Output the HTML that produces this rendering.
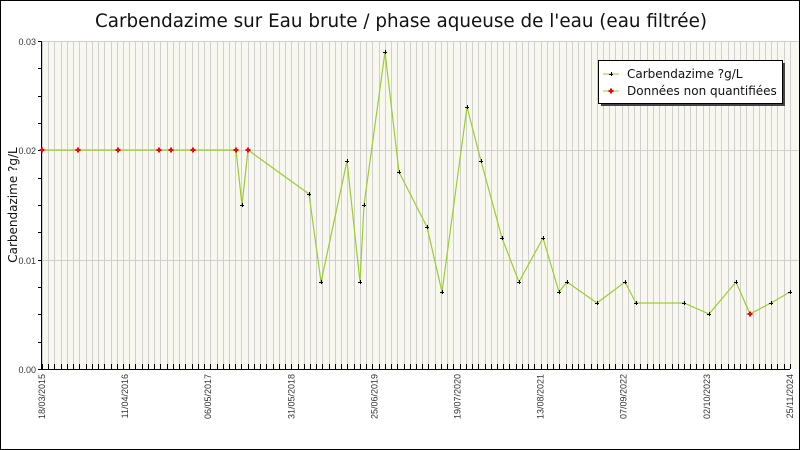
<!DOCTYPE html>
<html><head><meta charset="utf-8"><style>
html,body{margin:0;padding:0;background:#fff;}
svg{display:block;font-family:"Liberation Sans","DejaVu Sans",sans-serif;}
</style></head><body>
<svg width="800" height="450" xmlns="http://www.w3.org/2000/svg">
<rect x="0.5" y="0.5" width="799" height="449" fill="#fff" stroke="#000"/>
<text x="401" y="27" font-size="19" text-anchor="middle" fill="#111" font-family="DejaVu Sans, sans-serif" textLength="612" lengthAdjust="spacingAndGlyphs">Carbendazime sur Eau brute / phase aqueuse de l'eau (eau filtrée)</text>
<rect x="42" y="41" width="757" height="328" fill="#f8f8f0"/>
<g id="grid" stroke="#cfcfcf" stroke-width="1"></g>
<line x1="42" y1="150.5" x2="799" y2="150.5" stroke="#cfcfcf"/>
<line x1="42" y1="260.5" x2="799" y2="260.5" stroke="#cfcfcf"/>
<line x1="42" y1="41.5" x2="799" y2="41.5" stroke="#cfcfcf"/>
<g id="ticks" stroke="#000"></g>
<line x1="41.5" y1="41" x2="41.5" y2="370" stroke="#000"/>
<line x1="41" y1="369.5" x2="790" y2="369.5" stroke="#000"/>
<g font-size="9" fill="#333" text-anchor="end">
<text x="36" y="45">0.03</text><text x="36" y="154">0.02</text><text x="36" y="264">0.01</text><text x="36" y="373">0.00</text>
</g>
<text transform="translate(17,205) rotate(-90)" font-size="12" text-anchor="middle" fill="#111" font-family="DejaVu Sans, sans-serif">Carbendazime ?g/L</text>
<g font-size="9" fill="#333" id="xl"></g>
<polyline fill="none" stroke="#9acd32" stroke-width="1.2" points="42,150 78,150 118,150 159,150 171,150 193,150 236,150 242,205 248,150 309,194 321,282 347,161 360,282 364,205 385,52 399,172 427,227 442,292 467,107 481,161 502,238 519,282 543,238 559,292 567,282 597,303 625,282 636,303 684,303 709,314 736,282 750,314 771,303 790,292"/>
<g id="pts"></g>
<rect x="601" y="63" width="184" height="43" fill="#444"/>
<rect x="598.5" y="60.5" width="184" height="43" fill="#fff" stroke="#000"/>
<line x1="603" y1="74" x2="619" y2="74" stroke="#9acd32"/>
<path d="M609 74.5h4M611.5 72v4" stroke="#000"/>
<line x1="603" y1="91" x2="619" y2="91" stroke="#9acd32"/>
<path d="M608.5 91h5M611 88.5v5" stroke="red" stroke-width="2"/>
<text x="627" y="78" font-size="12" fill="#111" font-family="DejaVu Sans, sans-serif">Carbendazime ?g/L</text>
<text x="627" y="95" font-size="12" fill="#111" font-family="DejaVu Sans, sans-serif">Données non quantifiées</text>
</svg>
<script>
var ns="http://www.w3.org/2000/svg";
function el(p,t,a){var e=document.createElementNS(ns,t);for(var k in a)e.setAttribute(k,a[k]);document.getElementById(p).appendChild(e);return e;}
for(var i=0;i<=120;i++){var x=Math.round(42+i*6.233)+0.5;if(x>799)break;
el('grid','line',{x1:x,y1:41,x2:x,y2:369});
el('ticks','line',{x1:x,y1:364,x2:x,y2:369});}
for(var j=0;j<=12;j++){var y=Math.round(41+j*27.33)+0.5;el('ticks','line',{x1:38,y1:y,x2:42,y2:y});}
var labs=["18/03/2015","11/04/2016","06/05/2017","31/05/2018","25/06/2019","19/07/2020","13/08/2021","07/09/2022","02/10/2023","25/11/2024"];
labs.forEach(function(l,i){var x=42+i*83.1+3;var t=el('xl','text',{transform:'translate('+x+',374) rotate(-90)','text-anchor':'end'});t.textContent=l;});
var red=[[42,150],[78,150],[118,150],[159,150],[171,150],[193,150],[236,150],[248,150],[750,314]];
var blk=[[242,205],[309,194],[321,282],[347,161],[360,282],[364,205],[385,52],[399,172],[427,227],[442,292],[467,107],[481,161],[502,238],[519,282],[543,238],[559,292],[567,282],[597,303],[625,282],[636,303],[684,303],[709,314],[736,282],[771,303],[790,292]];
blk.forEach(function(p){el('pts','path',{d:'M'+(p[0]-2)+' '+(p[1]+.5)+'h4M'+(p[0]+.5)+' '+(p[1]-2)+'v4',stroke:'#000'});});
red.forEach(function(p){el('pts','path',{d:'M'+(p[0]-2.5)+' '+p[1]+'h5M'+p[0]+' '+(p[1]-2.5)+'v5',stroke:'red','stroke-width':2});});
</script>
</body></html>
